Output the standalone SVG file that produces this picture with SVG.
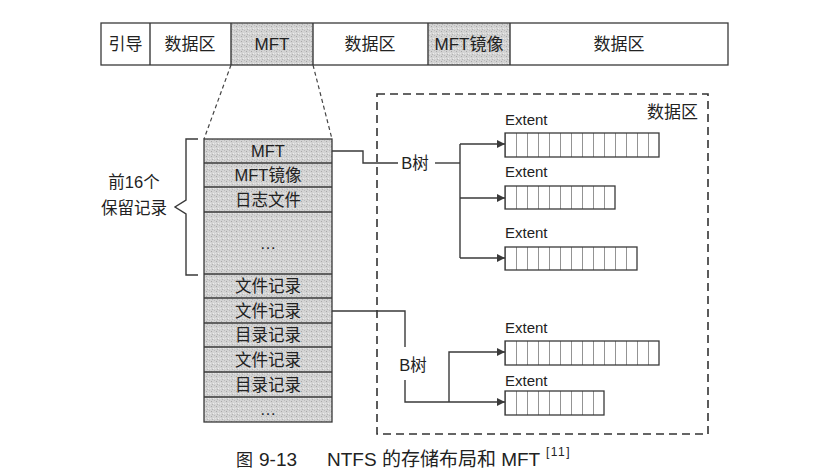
<svg xmlns="http://www.w3.org/2000/svg" width="824" height="476" viewBox="0 0 824 476">
<style>
  .t{font-family:"Liberation Sans","Noto Sans CJK SC",sans-serif;fill:#222222;}
  .bar{font-size:17px;text-anchor:middle;}
  .cell{font-size:16.5px;text-anchor:middle;}
  .ext{font-size:15px;}
  .ln{stroke:#3a3a3a;stroke-width:1.4;fill:none;}
  .box{stroke:#3a3a3a;stroke-width:1.3;fill:none;}
  .shade{fill:url(#stip);}
  .dash{stroke:#333;stroke-width:1.6;stroke-dasharray:8 5;fill:none;}
  .tdash{stroke:#444;stroke-width:1.2;stroke-dasharray:4 3;fill:none;}
</style>
<defs>
  <pattern id="stip" width="5" height="5" patternUnits="userSpaceOnUse">
    <rect width="5" height="5" fill="#d3d3d3"/>
    <rect x="1" y="1" width="1" height="1" fill="#a9a9a9"/>
    <rect x="3" y="3" width="1" height="1" fill="#eeeeee"/>
    <rect x="4" y="0" width="1" height="1" fill="#bcbcbc"/>
    <rect x="0" y="3" width="1" height="1" fill="#e6e6e6"/>
    <rect x="2" y="4" width="1" height="1" fill="#b3b3b3"/>
  </pattern>
  <marker id="ar" viewBox="0 0 10 10" refX="10" refY="5" markerWidth="9" markerHeight="8" markerUnits="userSpaceOnUse" orient="auto">
    <path d="M0,0 L10,5 L0,10 z" fill="#3a3a3a"/>
  </marker>
  <pattern id="cells" width="11" height="30" patternUnits="userSpaceOnUse" x="505" y="0">
    <line x1="0" y1="0" x2="0" y2="30" stroke="#3a3a3a" stroke-width="1.1"/>
  </pattern>
</defs>
<rect width="824" height="476" fill="#ffffff"/>

<!-- Top disk layout bar -->
<g id="bar">
  <rect x="231" y="23" width="82" height="42" class="shade"/>
  <rect x="428" y="23" width="82" height="42" class="shade"/>
  <rect x="101" y="23" width="627" height="42" class="box" stroke-width="1.5"/>
  <line x1="150" y1="23" x2="150" y2="65" class="ln"/>
  <line x1="231" y1="23" x2="231" y2="65" class="ln"/>
  <line x1="313" y1="23" x2="313" y2="65" class="ln"/>
  <line x1="428" y1="23" x2="428" y2="65" class="ln"/>
  <line x1="510" y1="23" x2="510" y2="65" class="ln"/>
  <text class="t bar" x="125.5" y="50">引导</text>
  <text class="t bar" x="190" y="50">数据区</text>
  <text class="t bar" x="272" y="50">MFT</text>
  <text class="t bar" x="370" y="50">数据区</text>
  <text class="t bar" x="469" y="50">MFT镜像</text>
  <text class="t bar" x="619" y="50">数据区</text>
</g>

<!-- Zoom lines -->
<g id="zoomlines">
  <line x1="231" y1="65" x2="204" y2="139" class="tdash"/>
  <line x1="313" y1="65" x2="332" y2="139" class="tdash"/>
</g>

<!-- MFT table -->
<g id="mft-table">
  <rect x="204" y="139" width="128" height="283" class="shade"/>
  <rect x="204" y="139" width="128" height="283" class="box"/>
  <line x1="204" y1="163" x2="332" y2="163" class="ln" stroke-width="1.1"/>
  <line x1="204" y1="187" x2="332" y2="187" class="ln" stroke-width="1.1"/>
  <line x1="204" y1="212" x2="332" y2="212" class="ln" stroke-width="1.1"/>
  <line x1="204" y1="274" x2="332" y2="274" class="ln" stroke-width="1.1"/>
  <line x1="204" y1="298" x2="332" y2="298" class="ln" stroke-width="1.1"/>
  <line x1="204" y1="323" x2="332" y2="323" class="ln" stroke-width="1.1"/>
  <line x1="204" y1="347" x2="332" y2="347" class="ln" stroke-width="1.1"/>
  <line x1="204" y1="372" x2="332" y2="372" class="ln" stroke-width="1.1"/>
  <line x1="204" y1="397" x2="332" y2="397" class="ln" stroke-width="1.1"/>
  <text class="t cell" x="268" y="157">MFT</text>
  <text class="t cell" x="268" y="181">MFT镜像</text>
  <text class="t cell" x="268" y="205.5">日志文件</text>
  <text class="t cell" x="268" y="249">…</text>
  <text class="t cell" x="268" y="292">文件记录</text>
  <text class="t cell" x="268" y="316.5">文件记录</text>
  <text class="t cell" x="268" y="341">目录记录</text>
  <text class="t cell" x="268" y="365.5">文件记录</text>
  <text class="t cell" x="268" y="390.5">目录记录</text>
  <text class="t cell" x="268" y="415">…</text>
</g>

<!-- Brace and label -->
<g id="reserved">
  <path d="M198,139 L186,139 L186,200 L175,207 L186,214 L186,275 L198,275" class="ln"/>
  <text class="t cell" x="134" y="188">前16个</text>
  <text class="t cell" x="134" y="214">保留记录</text>
</g>

<!-- Data region -->
<g id="data-region">
  <rect x="377" y="94" width="331" height="340" class="dash"/>
  <text class="t" x="698" y="118" font-size="17" text-anchor="end">数据区</text>
</g>

<g id="btree1">
  <text class="t" x="415" y="169" font-size="16.5" text-anchor="middle">B树</text>
</g>
<g id="btree2">
  <text class="t" x="413" y="371" font-size="16.5" text-anchor="middle">B树</text>
</g>

<g id="extent1">
  <text class="t ext" x="505" y="125">Extent</text>
  <rect x="505" y="133" width="154" height="24" fill="url(#cells)"/>
  <rect x="505" y="133" width="154" height="24" class="box"/>
</g>
<g id="extent2">
  <text class="t ext" x="505" y="177">Extent</text>
  <rect x="505" y="186" width="110" height="23" fill="url(#cells)"/>
  <rect x="505" y="186" width="110" height="23" class="box"/>
</g>
<g id="extent3">
  <text class="t ext" x="505" y="238">Extent</text>
  <rect x="505" y="247" width="132" height="23" fill="url(#cells)"/>
  <rect x="505" y="247" width="132" height="23" class="box"/>
</g>
<g id="extent4">
  <text class="t ext" x="505" y="333">Extent</text>
  <rect x="505" y="341" width="154" height="24" fill="url(#cells)"/>
  <rect x="505" y="341" width="154" height="24" class="box"/>
</g>
<g id="extent5">
  <text class="t ext" x="505" y="386">Extent</text>
  <rect x="505" y="391" width="99" height="24" fill="url(#cells)"/>
  <rect x="505" y="391" width="99" height="24" class="box"/>
</g>

<!-- Connectors -->
<g id="connectors">
  <path d="M332,151 L363,151 L363,163 L398,163" class="ln"/>
  <path d="M435,163 L460,163" class="ln"/>
  <path d="M460,144 L460,258" class="ln"/>
  <path d="M460,144 L505,144" class="ln" marker-end="url(#ar)"/>
  <path d="M460,198 L505,198" class="ln" marker-end="url(#ar)"/>
  <path d="M460,258 L505,258" class="ln" marker-end="url(#ar)"/>
  <path d="M332,311 L405,311 L405,347" class="ln"/>
  <path d="M405,380 L405,402 L505,402" class="ln" marker-end="url(#ar)"/>
  <path d="M449,402 L449,352 L505,352" class="ln" marker-end="url(#ar)"/>
</g>

<!-- Caption -->
<g id="caption">
  <text class="t" x="236" y="466" font-size="17">图</text>
  <text class="t" x="259" y="466" font-size="19">9-13</text>
  <text class="t" x="327" y="466" font-size="19">NTFS 的存储布局和 MFT</text>
  <text class="t" x="546" y="456" font-size="12" letter-spacing="1.5">[11]</text>
</g>
</svg>
